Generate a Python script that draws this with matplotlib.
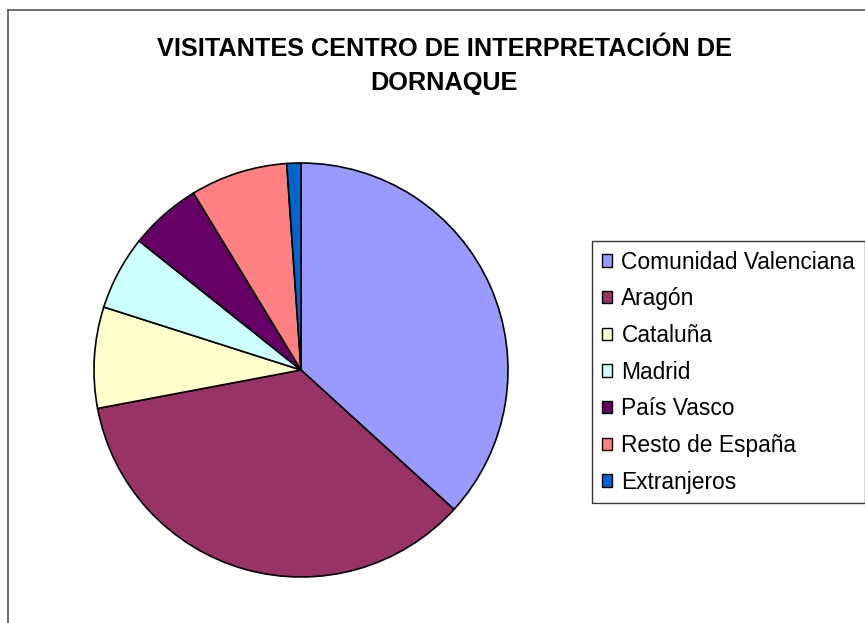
import matplotlib
matplotlib.use("Agg")
import matplotlib.pyplot as plt
from matplotlib.patches import Patch
from matplotlib.lines import Line2D

categories = ["Comunidad Valenciana", "Aragón", "Cataluña", "Madrid",
              "País Vasco", "Resto de España", "Extranjeros"]
values = [36.8, 35.3, 7.9, 5.8, 5.6, 7.6, 1.1]
colors = ["#9999FF", "#993366", "#FFFFCC", "#CCFFFF", "#660066", "#FF8080", "#0066CC"]
title = "VISITANTES CENTRO DE INTERPRETACIÓN DE\nDORNAQUE"

plt.rcParams['font.family'] = ['Liberation Sans', 'DejaVu Sans']

W, H = 865, 623
fig = plt.figure(figsize=(W / 100, H / 100), dpi=100)

# frame (cut off at right and bottom like the reference)
fig.add_artist(Line2D([8 / W, 1.0], [1 - 10 / H, 1 - 10 / H], color="#555555", lw=1.2))
fig.add_artist(Line2D([8 / W, 8 / W], [0, 1 - 10 / H], color="#555555", lw=1.2))

cx, cy, r = 301, 370, 207
ax = fig.add_axes([(cx - r) / W, (H - cy - r) / H, 2 * r / W, 2 * r / H])
ax.pie(values, colors=colors, startangle=90, counterclock=False, radius=1,
       wedgeprops=dict(edgecolor="black", linewidth=1.2))
ax.set_xlim(-1, 1)
ax.set_ylim(-1, 1)
ax.set_axis_off()

fig.text(444 / W, 1 - 66 / H, title, ha="center", va="center", fontsize=18.2,
         fontweight="bold", linespacing=1.55)

handles = [Patch(facecolor=c, edgecolor="black", linewidth=1.0) for c in colors]
leg = fig.legend(handles, categories, loc="upper left",
                 bbox_to_anchor=(592 / W, 1 - 241 / H), fontsize=16.4,
                 frameon=True, fancybox=False, shadow=False,
                 handlelength=0.47, handleheight=0.47, handletextpad=0.4,
                 labelspacing=0.6, borderpad=0.42, borderaxespad=0)
leg.get_frame().set_edgecolor("black")
leg.get_frame().set_linewidth(1.0)

fig.savefig("out.png", dpi=100)
